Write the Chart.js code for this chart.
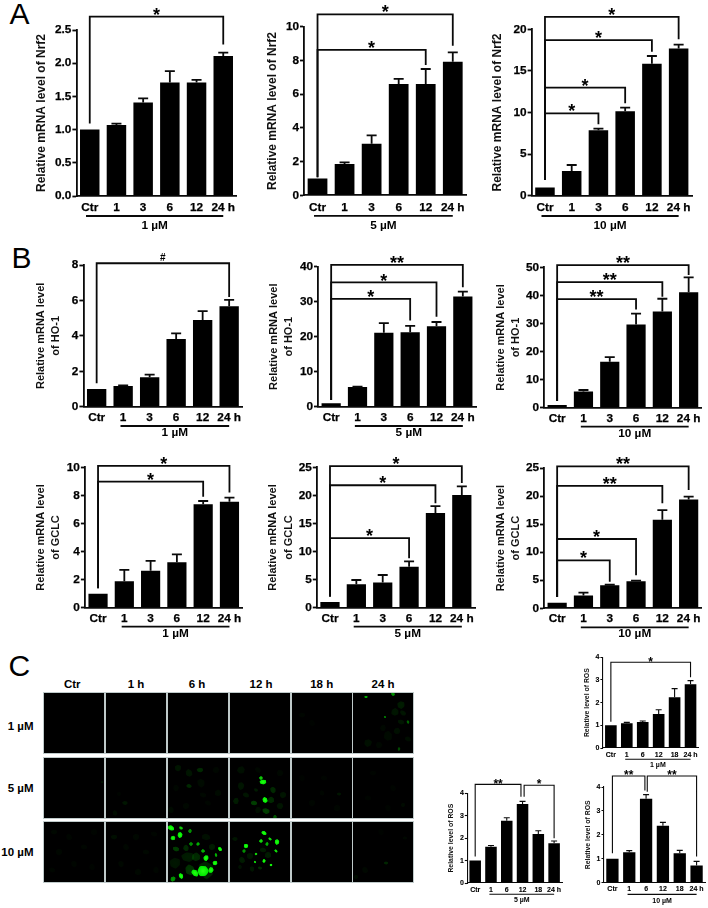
<!DOCTYPE html>
<html>
<head>
<meta charset="utf-8">
<script src="https://cdn.jsdelivr.net/npm/chart.js@4"></script>
<style>
html,body{margin:0;padding:0;background:#fff;width:708px;height:908px;overflow:hidden}
#fig{position:relative;width:708px;height:908px}
canvas{position:absolute;filter:blur(.3px)}
.t{position:absolute;font-family:"Liberation Sans",Arial,sans-serif;color:#000;white-space:nowrap;line-height:1}
.letter{font-size:30px;font-weight:400;color:#000}
.lab{font-size:11.5px;font-weight:700;transform:translate(-50%,-50%)}
.row{font-size:11.5px;font-weight:700;transform:translate(-100%,-50%)}
</style>
</head>
<body>
<div id="fig"></div>
<script>
// ---------- categories ----------
const hoursQpcr = ['Ctr','1','3','6','12','24 h'];
const hoursRos  = ['Ctr','1','6','12','18','24 h'];
const imageCols = ['Ctr','1 h','6 h','12 h','18 h','24 h'];
const imageRows = ['1 µM','5 µM','10 µM'];

// ---------- series values (mean) and upper error ----------
const nrf2_1  = [1,1.07,1.41,1.71,1.71,2.11];    const nrf2_1_err  = [0,.02,.06,.17,.04,.05];
const nrf2_5  = [1,1.85,3.06,6.6,6.6,7.92];      const nrf2_5_err  = [0,.1,.5,.3,.89,.56];
const nrf2_10 = [1,2.97,7.86,10.14,15.87,17.68]; const nrf2_10_err = [0,.72,.2,.44,.92,.48];
const ho1_1   = [1,1.17,1.66,3.82,4.9,5.67];     const ho1_1_err   = [0,.03,.15,.32,.5,.36];
const ho1_5   = [1,5.6,21.1,21.3,23,31.5];       const ho1_5_err   = [0,.1,2.8,1.8,1.2,1.4];
const ho1_10  = [1,5.8,16.4,29.6,34.3,41.1];     const ho1_10_err  = [0,.5,1.6,3.9,4.5,5.3];
const gclc_1  = [1,1.88,2.64,3.23,7.36,7.55];    const gclc_1_err  = [0,.82,.69,.57,.24,.29];
const gclc_5  = [1,4.16,4.5,7.3,16.86,20.07];    const gclc_5_err  = [0,.77,1.32,.95,1.24,1.53];
const gclc_10 = [1,2.3,4.1,4.8,15.8,19.4];       const gclc_10_err = [0,.5,.1,.13,1.7,.5];
const ros_1   = [1,1.09,1.15,1.5,2.24,2.81];     const ros_1_err   = [0,.04,.04,.19,.38,.16];
const ros_5   = [1,1.62,2.78,3.52,2.19,1.77];    const ros_5_err   = [0,.05,.13,.12,.14,.1];
const ros_10  = [1,1.27,3.51,2.38,1.23,.72];     const ros_10_err  = [0,.07,.17,.14,.12,.17];

// ---------- significance brackets: [fromCat, toCat, levelValue, fromEndValue, toEndValue, label] ----------
const br_nrf2_1  = [[0,5,2.70,1.09,2.28,'*']];
const br_nrf2_5  = [[0,5,10.73,1.07,8.87,'*'],[0,4,8.62,1.07,7.73,'*']];
const br_nrf2_10 = [[0,5,21.5,1.9,18.8,'*'],[0,4,18.7,1.9,17.3,'*'],[0,3,13.0,1.9,11.1,'*'],[0,2,9.9,1.9,8.6,'*']];
const br_ho1_1   = [[0,5,8.1,1.32,6.2,'#']];
const br_ho1_5   = [[0,5,40.5,1.9,34.1,'**'],[0,4,35.5,1.9,25.7,'*'],[0,3,30.8,1.9,24.6,'*']];
const br_ho1_10  = [[0,5,50.8,2.4,47.3,'**'],[0,4,44.7,2.4,39.5,'**'],[0,3,38.7,2.4,35,'**']];
const br_gclc_1  = [[0,5,10.1,1.38,8.2,'*'],[0,4,8.98,1.38,7.9,'*']];
const br_gclc_5  = [[0,5,25.2,2,22.2,'*'],[0,4,21.8,2,18.6,'*'],[0,3,12.4,2,8.8,'*']];
const br_gclc_10 = [[0,5,25.3,2,21.1,'**'],[0,4,21.8,2,18.7,'**'],[0,3,12.35,2,5.9,'*'],[0,2,8.55,2,4.75,'*']];
const br_ros_1   = [[0,5,3.78,1.16,3.12,'*']];
const br_ros_5   = [[0,2.9,4.4,1.18,3.85,'**'],[3.1,5,4.36,3.85,1.99,'*']];
const br_ros_10  = [[0,1.93,4.46,1.23,3.85,'**'],[2.07,5,4.46,3.8,1.09,'**']];

// ---------- chart table ----------
const big = {font:11.8, line:1.8, tick:4, cap:5, star:18, starUp:6, hash:10, lh:1.4, stroke:.25};
const small = {font:7, line:1.1, tick:2.5, cap:3, star:12, starUp:3.5, hash:8, lh:1.4, stroke:.1};
const charts = [
 {style:big, tf:12, tp:5, cats:hoursQpcr, v:nrf2_1, e:nrf2_1_err, b:br_nrf2_1, title:'Relative mRNA level of Nrf2', titleX:41.7, L:76.4,R:236.6,T:30,B:196,max:2.5,step:.5,dec:1,group:'1 µM',gFrom:-.14,gY:20,gL:30},
 {style:big, tf:12, tp:5, cats:hoursQpcr, v:nrf2_5, e:nrf2_5_err, b:br_nrf2_5, title:'Relative mRNA level of Nrf2', titleX:272.7, L:304,R:466.3,T:26.7,B:195.3,max:10,step:2,dec:0,group:'5 µM',gFrom:-.13,gY:20.5,gL:30.5},
 {style:big, tf:12, tp:5, cats:hoursQpcr, v:nrf2_10, e:nrf2_10_err, b:br_nrf2_10, title:'Relative mRNA level of Nrf2', titleX:497.3, L:531.6,R:692,T:29.3,B:195.7,max:20,step:5,dec:0,group:'10 µM',gFrom:-.13,gY:20.3,gL:30.3},
 {style:big, tf:11, tp:3.5, cats:hoursQpcr, v:ho1_1, e:ho1_1_err, b:br_ho1_1, title:['Relative mRNA level','of HO-1'], titleX:40.7, L:83.4,R:242.4,T:265,B:406.7,max:8,step:2,dec:0,group:'1 µM',gFrom:.9,gY:19.3,gL:26},
 {style:big, tf:11, tp:3.5, cats:hoursQpcr, v:ho1_5, e:ho1_5_err, b:br_ho1_5, title:['Relative mRNA level','of HO-1'], titleX:274, L:318,R:476,T:266.7,B:406.7,max:40,step:10,dec:0,group:'5 µM',gFrom:.9,gY:19.3,gL:26},
 {style:big, tf:11, tp:3.5, cats:hoursQpcr, v:ho1_10, e:ho1_10_err, b:br_ho1_10, title:['Relative mRNA level','of HO-1'], titleX:501, L:544,R:701.8,T:267.3,B:407.7,max:50,step:10,dec:0,group:'10 µM',gFrom:.9,gY:19,gL:26},
 {style:big, tf:11, tp:3.5, cats:hoursQpcr, v:gclc_1, e:gclc_1_err, b:br_gclc_1, title:['Relative mRNA level','of GCLC'], titleX:40.7, L:84.9,R:242.6,T:467.3,B:607.7,max:10,step:2,dec:0,group:'1 µM',gFrom:.9,gY:19,gL:25.7},
 {style:big, tf:11, tp:3.5, cats:hoursQpcr, v:gclc_5, e:gclc_5_err, b:br_gclc_5, title:['Relative mRNA level','of GCLC'], titleX:273.3, L:316.8,R:475,T:467.3,B:607.7,max:25,step:5,dec:0,group:'5 µM',gFrom:.9,gY:19,gL:25.7},
 {style:big, tf:11, tp:3.5, cats:hoursQpcr, v:gclc_10, e:gclc_10_err, b:br_gclc_10, title:['Relative mRNA level','of GCLC'], titleX:501, L:544,R:701.8,T:468,B:608.3,max:25,step:5,dec:0,group:'10 µM',gFrom:.9,gY:19,gL:25.7},
 {style:small, tf:6.9, tp:2.5, cats:hoursRos, v:ros_1, e:ros_1_err, b:br_ros_1, title:'Relative level of ROS', titleX:587.3, L:602.9,R:698.5,T:657.3,B:748,max:4,step:1,dec:0,group:'1 µM',gFrom:.9,gY:11.3,gL:17},
 {style:small, tf:6.9, tp:2.5, cats:hoursRos, v:ros_5, e:ros_5_err, b:br_ros_5, title:'Relative level of ROS', titleX:451, L:467.3,R:562,T:793.3,B:883,max:4,step:1,dec:0,group:'5 µM',gFrom:.9,gY:11.3,gL:17},
 {style:small, tf:6.9, tp:2.5, cats:hoursRos, v:ros_10, e:ros_10_err, b:br_ros_10, title:'Relative level of ROS', titleX:588.3, L:604,R:705,T:787,B:882.7,max:4,step:1,dec:0,group:'10 µM',gFrom:.9,gY:11.7,gL:18}
];

// ---------- micrograph signal (panel coordinates 0..60): [x,y,radius,intensity] ----------
const cells = {
 '0,4':[[10,22,3,.06],[20,30,3,.04]],
 '0,5':[[13,4,1.6,.8],[40,1,2,.7],[48,12,3.5,.22],[32,24,1.2,.7],[55,29,1.6,.55],[42,19,3.5,.18],[48,29,3,.18],[35,43,4.5,.1],[15,50,3.5,.14],[55,46,3,.12],[46,56,1.6,.45],[44,38,3,.14],[50,20,3,.18],[30,35,3,.08],[26,52,3,.08]],
 '1,0':[[58,24,.8,.4]],
 '1,1':[[19,45,2.5,.18],[9,55,2.5,.12],[13,36,2,.05]],
 '1,2':[[32,12,3,.3],[21,15,3.5,.18],[10,10,3,.18],[21,28,2.5,.3],[33,25,4,.1],[50,35,3,.1],[35,37,3,.08],[3,52,3,.1],[18,48,3,.08],[40,45,3,.06],[8,30,3,.07],[48,12,3,.07]],
 '1,3':[[33,24,3.2,1],[35,42,2.8,1],[31,20,1.8,.85],[24,45,3,.4],[43,32,3,.3],[41,42,3,.3],[36,53,3.5,.4],[45,59,2,.5],[53,37,3,.18],[16,37,3,.18],[11,28,3.5,.18],[11,12,3.5,.14],[26,32,2,.22],[6,43,3,.22],[50,15,3,.08],[28,12,3,.08],[28,52,3,.14],[50,48,3,.18]],
 '1,4':[[47,36,2,.18],[30,35,2.5,.06],[20,45,3,.06],[32,20,3,.05],[10,20,3,.04],[45,50,3,.06]],
 '1,5':[[20,15,3,.05],[40,30,3,.05],[50,47,2,.1],[15,40,3,.05],[35,50,3,.05]],
 '2,0':[[10,10,3,.08],[25,15,3,.06],[15,30,3,.07],[40,25,3,.06],[30,42,3,.06],[50,10,3,.05],[8,48,3,.06],[48,45,3,.05]],
 '2,1':[[8,15,3,.13],[20,25,3,.07],[30,15,3,.08],[40,30,3,.08],[15,42,3,.08],[32,50,3,.08],[48,12,3,.06],[50,48,3,.06]],
 '2,2':[[20,35,6,.22],[22,48,5,.35],[7,41,5,.18],[38,15,4,.14],[38,48,8,.28],[28,35,4,.3],[8,27,3,.4],[18,26,3,.3],[44,25,3,.22],[3,6,3.2,1],[12,13,2.8,1],[5,16,2.3,.95],[13,6,2,.85],[22,9,2,.7],[35,49,5.2,1],[27,51,3.8,1],[43,48,2.8,1],[47,41,2.3,1],[52,27,2.3,1],[38,36,2.8,1],[35,29,1.8,.8],[13,54,2.8,1],[30,22,1.8,.8],[23,22,1.8,.7],[48,33,1.8,.8],[5,57,2.6,.7]],
 '2,3':[[5,17,2.5,.18],[12,38,3,.22],[20,34,3,.18],[33,28,3,.22],[22,47,2.5,.18],[38,33,3,.22],[30,46,2,.3],[10,45,2,.15],[16,24,2.2,1],[34,11,2.6,1],[47,20,2.6,1],[31,19,1.8,.9],[40,17,1.8,.9],[37,22,1.8,.8],[26,32,1.4,.9],[46,29,1.8,.9],[34,39,1.8,1],[41,43,1.4,1],[25,40,1.4,.9],[14,29,1.8,.7]],
 '2,5':[[33,41,2,.28],[12,48,3,.08],[3,55,2,.12],[52,16,2,.08],[28,10,3,.04]]
};

// ---------- helpers ----------
const FONT = '"Liberation Sans", Arial, sans-serif';
const INK = '#0a0a0a';
function catX(chart,i){
  const s = chart.scales.x, a = s.getPixelForTick(0), b = s.getPixelForTick(1);
  return a + (b-a)*i;
}
const annotations = {
  id:'annotations',
  afterDraw(chart,_,o){
    const c = o.spec, st = c.style, y = chart.scales.y, ctx = chart.ctx;
    ctx.save();
    ctx.strokeStyle = INK; ctx.fillStyle = '#000'; ctx.lineWidth = st.line; ctx.lineCap='butt';
    c.v.forEach((m,i)=>{
      if(!c.e[i]) return;
      const x = catX(chart,i), y0 = y.getPixelForValue(m), y1 = y.getPixelForValue(m+c.e[i]);
      ctx.beginPath(); ctx.moveTo(x,y0); ctx.lineTo(x,y1);
      ctx.moveTo(x-st.cap,y1); ctx.lineTo(x+st.cap,y1); ctx.stroke();
    });
    ctx.textAlign='center'; ctx.textBaseline='alphabetic';
    c.b.forEach(([f,t,lv,fe,te,lab])=>{
      const xa = catX(chart,f), xb = catX(chart,t), yl = y.getPixelForValue(lv);
      ctx.beginPath();
      ctx.moveTo(xa,y.getPixelForValue(fe)); ctx.lineTo(xa,yl); ctx.lineTo(xb,yl); ctx.lineTo(xb,y.getPixelForValue(te));
      ctx.stroke();
      if(lab==='#'){
        ctx.font = '700 '+st.hash+'px '+FONT;
        ctx.fillText(lab,(xa+xb)/2,yl-st.starUp+st.hash*.35);
      } else {
        ctx.font = '700 '+st.star+'px '+FONT;
        ctx.fillText(lab,(xa+xb)/2,yl-st.starUp+st.star*.56);
      }
    });
    const B = y.getPixelForValue(0), gxa = catX(chart,c.gFrom), gxb = catX(chart,5);
    ctx.beginPath(); ctx.moveTo(gxa,B+c.gY); ctx.lineTo(gxb,B+c.gY); ctx.stroke();
    ctx.font = '700 '+st.font+'px '+FONT; ctx.fillStyle='#000'; ctx.textBaseline='middle';
    ctx.fillText(c.group,(gxa+gxb)/2,B+c.gL);
    ctx.restore();
  }
};

const fig = document.getElementById('fig');
charts.forEach(c=>{
  const st = c.style;
  const lh = c.tf*st.lh;
  const rawLeft = c.titleX - lh/2;
  const left = Math.floor(rawLeft), topPad = Math.ceil(c.B-c.T) > 100 ? 32 : 22;
  const top = Math.floor(c.T - topPad);
  const padTop = c.T - top;
  const bottomH = st===big ? 40 : 25;
  const padR = st===big ? 6 : 3;
  const W = Math.ceil(c.R + padR - left), H = Math.ceil(c.B + bottomH - top);
  const cv = document.createElement('canvas');
  cv.width = W; cv.height = H;
  cv.style.cssText = `left:${left}px;top:${top}px;width:${W}px;height:${H}px`;
  fig.appendChild(cv);
  new Chart(cv,{
    type:'bar',
    data:{labels:c.cats,datasets:[{data:c.v,backgroundColor:'#000',borderWidth:0,barPercentage:.73,categoryPercentage:1}]},
    plugins:[annotations],
    options:{
      responsive:false,animation:false,devicePixelRatio:1,
      layout:{autoPadding:false,padding:{left:0,top:padTop,right:W-(c.R-left),bottom:0}},
      plugins:{legend:{display:false},tooltip:{enabled:false},title:{display:false},annotations:{spec:c}},
      scales:{
        x:{
          type:'category',offset:true,
          grid:{display:true,drawOnChartArea:false,drawTicks:false},
          border:{display:true,color:INK,width:st.line},
          ticks:{color:'#000',textStrokeColor:'#000',textStrokeWidth:st.stroke,font:{family:FONT,size:st.font,weight:'700'},padding:c.tp,autoSkip:false,maxRotation:0,minRotation:0},
          afterFit(s){s.height = H-(c.B-top);}
        },
        y:{
          min:0,max:c.max,
          grid:{display:true,drawOnChartArea:false,drawTicks:true,tickLength:st.tick,tickWidth:st.line,tickColor:INK},
          border:{display:true,color:INK,width:st.line},
          ticks:{stepSize:c.step,color:'#000',textStrokeColor:'#000',textStrokeWidth:st.stroke,font:{family:FONT,size:st.font,weight:'700'},padding:1,autoSkip:false,
                 callback:v=>Number(v).toFixed(c.dec)},
          title:{display:true,text:c.title,color:'#111',font:{family:FONT,size:c.tf,weight:'700',lineHeight:st.lh},padding:{top:rawLeft-left,bottom:0}},
          afterFit(s){s.width = c.L-left;}
        }
      }
    }
  });
});

// ---------- panel letters ----------
[['A',9.5,-1],['B',11.5,243],['C',8.5,651]].forEach(([t,x,y])=>{
  const d=document.createElement('div');d.className='t letter';d.textContent=t;
  d.style.left=x+'px';d.style.top=y+'px';fig.appendChild(d);
});

// ---------- micrograph grid ----------
const colX=[43.7,105.7,167.7,229.7,291.7,353.3], rowY=[693.3,757.7,822];
const colC=[72.3,136,197,261,321.7,383], rowC=[726.7,789.3,853.3];
imageCols.forEach((t,i)=>{
  const d=document.createElement('div');d.className='t lab';d.textContent=t;
  d.style.left=colC[i]+'px';d.style.top='684.7px';fig.appendChild(d);
});
imageRows.forEach((t,i)=>{
  const d=document.createElement('div');d.className='t row';d.textContent=t;
  d.style.left='33.5px';d.style.top=rowC[i]+'px';fig.appendChild(d);
});
const im=document.createElement('canvas');
im.width=380;im.height=200;im.style.cssText='left:40px;top:690px;width:380px;height:200px;filter:blur(.45px)';
fig.appendChild(im);
const g=im.getContext('2d');
rowY.forEach((ry,r)=>colX.forEach((cx,c)=>{
  const x=Math.round(cx)-40,y=Math.round(ry)-690;
  g.fillStyle='#bfcaca';g.fillRect(x-1,y-1,62,62);
  g.fillStyle='#000';g.fillRect(x,y,60,60);
  g.save();g.beginPath();g.rect(x,y,60,60);g.clip();
  (cells[r+','+c]||[]).forEach(([bx,by,br,a],n)=>{
    const R=br*1.25, rot=n*1.1, sq=.72+(n%3)*.12;
    g.save();
    g.translate(x+bx,y+by);g.rotate(rot);g.scale(1,sq);
    const gr=g.createRadialGradient(0,0,0,0,0,R);
    const hi=Math.round(90+165*a);
    gr.addColorStop(0,`rgba(${a>.8?40:0},${hi},${a>.8?20:0},${Math.min(1,a*1.05)})`);
    gr.addColorStop(.8,`rgba(0,${hi},0,${a*.9})`);
    gr.addColorStop(1,'rgba(0,170,0,0)');
    g.fillStyle=gr;
    g.beginPath();
    for(let k=0;k<6;k++){const ang=k*Math.PI/3+.3;const rr=R*(k%2?1:.88);k?g.lineTo(rr*Math.cos(ang),rr*Math.sin(ang)):g.moveTo(rr*Math.cos(ang),rr*Math.sin(ang));}
    g.closePath();g.fill();
    g.restore();
  });
  g.restore();
}));
</script>
</body>
</html>
